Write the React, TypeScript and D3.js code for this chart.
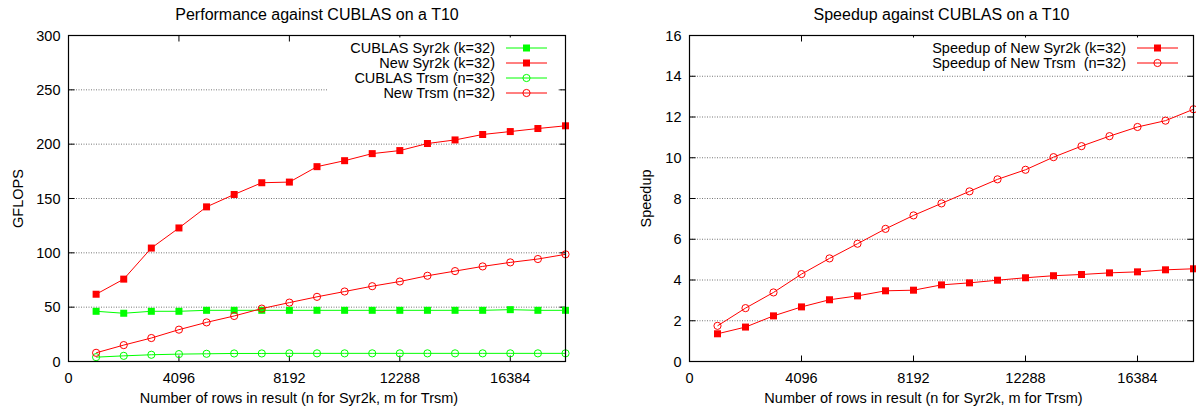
import React from "react";
import * as d3 from "d3";

const WIDTH = 1196;
const HEIGHT = 410;
const FONT = "'Liberation Sans', Arial, Helvetica, sans-serif";

// matrix sizes (x) shared by every series
const ROWS = [1024, 2048, 3072, 4096, 5120, 6144, 7168, 8192, 9216, 10240, 11264, 12288, 13312, 14336, 15360, 16384, 17408, 18432];
const X_TICKS = [0, 4096, 8192, 12288, 16384];

// left panel: GFLOPS
const CUBLAS_SYR2K = [46.2, 44.4, 46.2, 46.2, 47.1, 47.1, 47.1, 47.1, 47.1, 47.1, 47.1, 47.1, 47.1, 47.1, 47.1, 47.7, 47.1, 47.1];
const NEW_SYR2K = [61.9, 75.8, 104.4, 122.9, 142.3, 153.7, 164.5, 165.1, 179.3, 184.8, 191.3, 194.1, 200.6, 203.9, 208.9, 211.6, 214.4, 216.9];
const CUBLAS_TRSM = [4.0, 5.2, 6.2, 6.8, 7.1, 7.4, 7.4, 7.5, 7.5, 7.5, 7.5, 7.5, 7.5, 7.5, 7.5, 7.5, 7.5, 7.5];
const NEW_TRSM = [8.0, 15.1, 21.6, 29.3, 36.0, 41.9, 48.7, 54.2, 59.5, 64.4, 69.3, 73.6, 78.9, 83.2, 87.5, 91.2, 94.3, 98.6];
const GFLOPS_TICKS = [0, 50, 100, 150, 200, 250, 300];

// right panel: speedup
const SPEEDUP_SYR2K = [1.36, 1.69, 2.24, 2.68, 3.03, 3.22, 3.47, 3.5, 3.76, 3.86, 3.99, 4.11, 4.21, 4.27, 4.35, 4.4, 4.5, 4.55];
const SPEEDUP_TRSM = [1.75, 2.62, 3.39, 4.29, 5.06, 5.78, 6.51, 7.17, 7.76, 8.35, 8.94, 9.41, 10.03, 10.57, 11.06, 11.51, 11.82, 12.38];
const SPEEDUP_TICKS = [0, 2, 4, 6, 8, 10, 12, 14, 16];

const GREEN = "#00ff00";
const RED = "#ff0000";
const FS = 14.5;

type Series = { label: string; values: number[]; color: string; marker: "square" | "circle" };

type PanelProps = {
  left: number;
  right: number;
  top: number;
  bottom: number;
  title: string;
  yLabel: string;
  yLabelOffset: number;
  yTicks: number[];
  series: Series[];
  legendTextRight: number;
  legendBox: [number, number];
};

function Marker({ x, y, s }: { x: number; y: number; s: Series }) {
  if (s.marker === "square") {
    return <rect x={x - 3.5} y={y - 3.5} width={7} height={7} fill={s.color} />;
  }
  return <circle cx={x} cy={y} r={3.6} fill="none" stroke={s.color} strokeWidth={1} />;
}

function Panel(p: PanelProps) {
  const x = d3.scaleLinear().domain([0, 18432]).range([p.left, p.right]);
  const y = d3
    .scaleLinear()
    .domain([p.yTicks[0], p.yTicks[p.yTicks.length - 1]])
    .range([p.bottom, p.top]);
  const line = d3
    .line<number>()
    .x((_, i) => x(ROWS[i]))
    .y((d) => y(d));
  const tick = 6;
  const cx = (p.left + p.right) / 2;
  const cy = (p.top + p.bottom) / 2;

  return (
    <g fontFamily={FONT} fill="#000">
      <text x={cx} y={14} dy="0.35em" textAnchor="middle" fontSize={16}>
        {p.title}
      </text>

      {/* horizontal grid */}
      {p.yTicks.slice(1, -1).map((t) => (
        <line
          key={"g" + t}
          x1={p.left}
          x2={p.right}
          y1={y(t)}
          y2={y(t)}
          stroke="#777"
          strokeWidth={1}
          strokeDasharray="1,1.5"
        />
      ))}

      {/* ticks */}
      {p.yTicks.map((t) => (
        <g key={"y" + t}>
          <line x1={p.left} x2={p.left + tick} y1={y(t)} y2={y(t)} stroke="#000" />
          <line x1={p.right} x2={p.right - tick} y1={y(t)} y2={y(t)} stroke="#000" />
          <text x={p.left - 8} y={y(t)} dy="0.35em" textAnchor="end" fontSize={FS}>
            {t}
          </text>
        </g>
      ))}
      {X_TICKS.map((t) => (
        <g key={"x" + t}>
          <line x1={x(t)} x2={x(t)} y1={p.bottom} y2={p.bottom - tick} stroke="#000" />
          <line x1={x(t)} x2={x(t)} y1={p.top} y2={p.top + tick} stroke="#000" />
          <text x={x(t)} y={p.bottom + 16} dy="0.35em" textAnchor="middle" fontSize={FS}>
            {t}
          </text>
        </g>
      ))}

      <text x={cx - 18} y={p.bottom + 36} dy="0.35em" textAnchor="middle" fontSize={FS}>
        Number of rows in result (n for Syr2k, m for Trsm)
      </text>
      <text
        transform={`translate(${p.left - p.yLabelOffset},${cy}) rotate(-90)`}
        dy="0.35em"
        textAnchor="middle"
        fontSize={FS}
      >
        {p.yLabel}
      </text>

      {/* legend (opaque, hides grid behind it) */}
      <rect
        x={p.legendBox[0]}
        y={p.top + 2}
        width={p.legendBox[1] - p.legendBox[0]}
        height={p.series.length * 15 + 4}
        fill="#fff"
      />
      {p.series.map((s, i) => {
        const ly = p.top + 12.5 + i * 15;
        const lx = p.legendTextRight + 11;
        return (
          <g key={"l" + s.label}>
            <text x={p.legendTextRight} y={ly} dy="0.35em" textAnchor="end" fontSize={FS} style={{ whiteSpace: "pre" }}>
              {s.label}
            </text>
            <line x1={lx} x2={lx + 41} y1={ly} y2={ly} stroke={s.color} strokeWidth={1} />
            <Marker x={lx + 20.5} y={ly} s={s} />
          </g>
        );
      })}

      {/* series */}
      {p.series.map((s) => (
        <g key={"s" + s.label}>
          <path d={line(s.values) ?? ""} fill="none" stroke={s.color} strokeWidth={1} />
          {s.values.map((v, i) => (
            <Marker key={i} x={x(ROWS[i])} y={y(v)} s={s} />
          ))}
        </g>
      ))}

      {/* frame */}
      <rect
        x={p.left}
        y={p.top}
        width={p.right - p.left}
        height={p.bottom - p.top}
        fill="none"
        stroke="#000"
        strokeWidth={1.2}
      />
    </g>
  );
}

export default function App() {
  const leftSeries: Series[] = [
    { label: "CUBLAS Syr2k (k=32)", values: CUBLAS_SYR2K, color: GREEN, marker: "square" },
    { label: "New Syr2k (k=32)", values: NEW_SYR2K, color: RED, marker: "square" },
    { label: "CUBLAS Trsm (n=32)", values: CUBLAS_TRSM, color: GREEN, marker: "circle" },
    { label: "New Trsm (n=32)", values: NEW_TRSM, color: RED, marker: "circle" }
  ];
  const rightSeries: Series[] = [
    { label: "Speedup of New Syr2k (k=32)", values: SPEEDUP_SYR2K, color: RED, marker: "square" },
    { label: "Speedup of New Trsm  (n=32)", values: SPEEDUP_TRSM, color: RED, marker: "circle" }
  ];

  return (
    <div style={{ position: "absolute", left: 0, top: 0 }}>
      <svg width={WIDTH} height={HEIGHT} style={{ display: "block", background: "#fff" }}>
        <Panel
          left={68.5}
          right={565.5}
          top={35.5}
          bottom={361.5}
          title="Performance against CUBLAS on a T10"
          yLabel="GFLOPS"
          yLabelOffset={51}
          yTicks={GFLOPS_TICKS}
          series={leftSeries}
          legendTextRight={495}
          legendBox={[328, 557]}
        />
        <Panel
          left={689.5}
          right={1193.5}
          top={35.5}
          bottom={361.5}
          title="Speedup against CUBLAS on a T10"
          yLabel="Speedup"
          yLabelOffset={44}
          yTicks={SPEEDUP_TICKS}
          series={rightSeries}
          legendTextRight={1126}
          legendBox={[850, 1185]}
        />
      </svg>
    </div>
  );
}
